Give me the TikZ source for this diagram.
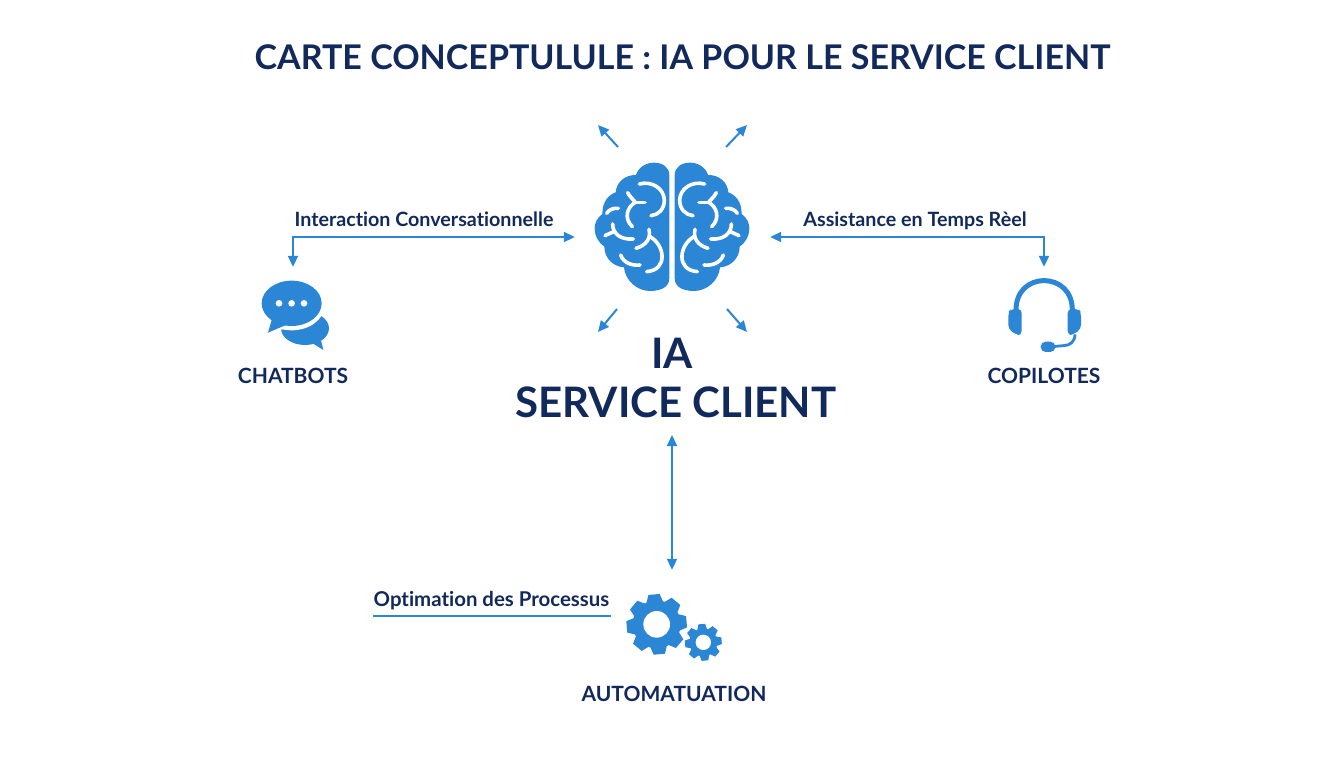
\documentclass[tikz,border=0pt]{standalone}
\usepackage{fontspec}
\setmainfont[Ligatures=NoCommon,Contextuals=NoAlternate]{Lato}
\usetikzlibrary{arrows.meta}
\definecolor{navy}{HTML}{12295B}
\definecolor{iconblue}{HTML}{2C86D6}
\tikzset{
  link/.style={draw=iconblue,line width=2pt,-{Triangle[length=11pt,width=10pt]}},
  bothlink/.style={draw=iconblue,line width=2pt,{Triangle[length=11pt,width=10pt]}-{Triangle[length=11pt,width=10pt]}},
  plain/.style={draw=iconblue,line width=2pt},
  titletext/.style={text=navy,font=\bfseries\fontsize{34}{36}\selectfont,inner sep=0pt},
  bigtext/.style={text=navy,font=\bfseries\fontsize{42}{46}\selectfont,inner sep=0pt},
  nametext/.style={text=navy,font=\bfseries\fontsize{21}{24}\selectfont,inner sep=0pt},
  linktext/.style={text=navy,font=\bfseries\fontsize{19.7}{22}\selectfont,inner sep=0pt,anchor=base},
  slot/.style={inner sep=0pt,draw=none},
  groove/.style={draw=white,line width=3.6pt,line cap=round,line join=round},
}
\newcommand{\brainhalf}{%
  \fill[iconblue] (298,195) .. controls (298,172) and (278,158) .. (252,158)
    .. controls (228,158) and (205,172) .. (198,195)
    .. controls (165,195) and (140,215) .. (137,247)
    .. controls (115,255) and (97,275) .. (97,312)
    .. controls (80,325) and (74,340) .. (74,355)
    .. controls (74,380) and (88,400) .. (103,410)
    .. controls (103,445) and (130,470) .. (162,472)
    .. controls (165,510) and (200,543) .. (240,543)
    .. controls (275,543) and (298,530) .. (298,505) -- cycle;
  \draw[groove] (208,222) .. controls (245,212) and (282,235) .. (283,270) .. controls (283,298) and (265,315) .. (243,317);
  \draw[groove] (173,248) .. controls (180,262) and (190,268) .. (196,277) .. controls (172,290) and (160,325) .. (187,350);
  \draw[groove] (225,277) -- (196,277);
  \draw[groove] (110,310) .. controls (118,298) and (130,294) .. (145,295);
  \draw[groove] (128,342) .. controls (128,370) and (150,390) .. (190,387);
  \draw[groove] (105,377) -- (133,364);
  \draw[groove] (237,358) .. controls (243,385) and (230,405) .. (198,415);
  \draw[groove] (240,380) .. controls (285,405) and (295,480) .. (230,485);
  \draw[groove] (152,435) .. controls (160,458) and (185,468) .. (210,465);
}
% centre x, centre y, outer radius, root radius, hole radius, half tooth base, half tooth tip, start angle
\newcommand{\gearicon}[8]{%
  \fill[iconblue] (#1,#2) circle[radius=#4];
  \foreach \a in {0,45,...,315}{
    \fill[iconblue,shift={(#1,#2)},rotate=\a+#8] (#6,#4-6) -- (#7,#3) -- (-#7,#3) -- (-#6,#4-6) -- cycle;
  }
  \fill[white] (#1,#2) circle[radius=#5];
}
\begin{document}
\begin{tikzpicture}[x=1pt,y=-1pt]
\useasboundingbox (0,0) rectangle (1344,768);
\fill[white] (0,0) rectangle (1344,768);

% Text
\node[titletext] (title) at (682.5,57.5) {CARTE CONCEPTULULE : IA POUR LE SERVICE CLIENT};
\node[bigtext] (ia) at (672,353) {IA};
\node[bigtext,minimum height=66pt] (service) at (676,402) {SERVICE CLIENT};
\node[nametext] (chatbots) at (293,376) {CHATBOTS};
\node[nametext] (copilotes) at (1044,376) {COPILOTES};
\node[nametext] (automation) at (674,694) {AUTOMATUATION};
\node[linktext] (interaction) at (424,226) {Interaction Conversationnelle};
\node[linktext] (assistance) at (915,226) {Assistance en Temps Rèel};
\node[linktext,font=\bfseries\fontsize{20.4}{22}\selectfont] (optimation) at (491.5,606) {Optimation des Processus};

% Invisible extents of the icons, for the connectors
\node[slot,minimum width=195pt,minimum height=100pt] (brain) at (672.5,237) {};
\node[slot,minimum width=80pt,minimum height=82pt] (chaticon) at (293,308) {};
\node[slot,minimum width=80pt,minimum height=82pt] (headicon) at (1044,308) {};
\node[slot,minimum width=100pt,minimum height=100pt] (gearsicon) at (672,620) {};
\coordinate (nw0) at (618,147); \coordinate (nw1) at (598,125);
\coordinate (ne0) at (726,147); \coordinate (ne1) at (747,125);
\coordinate (sw0) at (617,309); \coordinate (sw1) at (598,332);
\coordinate (se0) at (727,309); \coordinate (se1) at (747,332);
\coordinate (ruleL) at (373,616); \coordinate (ruleR) at (611,616);

% Connectors
\draw[bothlink] (brain.west) -| (chaticon.north);
\draw[bothlink] (brain.east) -| (headicon.north);
\draw[bothlink] (672,435) -- (gearsicon.north);
\draw[link] (nw0) -- (nw1);
\draw[link] (ne0) -- (ne1);
\draw[link] (sw0) -- (sw1);
\draw[link] (se0) -- (se1);
\draw[plain] (ruleL) -- (ruleR);

% Brain
\begin{scope}[shift={(570,110)},x=0.3333pt,y=-0.3333pt]
  \brainhalf
\end{scope}
\begin{scope}[shift={(774,110)},x=-0.3333pt,y=-0.3333pt]
  \brainhalf
\end{scope}

% Chat bubbles
\begin{scope}[shift={(230,200)},x=0.3333pt,y=-0.3333pt]
  \fill[iconblue] (225,385) ellipse[x radius=72,y radius=50];
  \fill[iconblue] (240,425) -- (280,450) -- (268,400) -- cycle;
  \fill[white] (185,315) ellipse[x radius=99,y radius=76];
  \fill[white] (120,350) -- (105,408) -- (190,375) -- cycle;
  \fill[iconblue] (185,310) ellipse[x radius=90,y radius=68];
  \fill[iconblue] (128,350) -- (114,398) -- (175,372) -- cycle;
  \fill[white] (147,310) circle[radius=10] (185,310) circle[radius=10] (222,310) circle[radius=10];
\end{scope}

% Headset
\begin{scope}[shift={(980,225)},x=0.3333pt,y=-0.3333pt]
  \draw[iconblue,line width=5pt] (108,255) .. controls (108,200) and (145,167) .. (192,167) .. controls (240,167) and (277,200) .. (277,255);
  \fill[iconblue,rounded corners=4pt] (85,262) -- (92,252) -- (125,252) -- (125,330) -- (110,330) -- (85,312) -- cycle;
  \fill[iconblue,rounded corners=4pt] (303,262) -- (296,252) -- (263,252) -- (263,330) -- (278,330) -- (303,312) -- cycle;
  \draw[iconblue,line width=2.8pt] (285,328) .. controls (285,350) and (270,362) .. (250,362) -- (215,365);
  \fill[iconblue,rounded corners=5pt] (182,350) rectangle (226,381);
\end{scope}

% Gears
\begin{scope}[shift={(610,580)},x=0.3333pt,y=-0.3333pt]
  \gearicon{140}{133}{90}{72}{40}{25}{17}{5}
  \gearicon{280}{187}{55}{42}{23}{15}{10}{5}
\end{scope}
\end{tikzpicture}
\end{document}
